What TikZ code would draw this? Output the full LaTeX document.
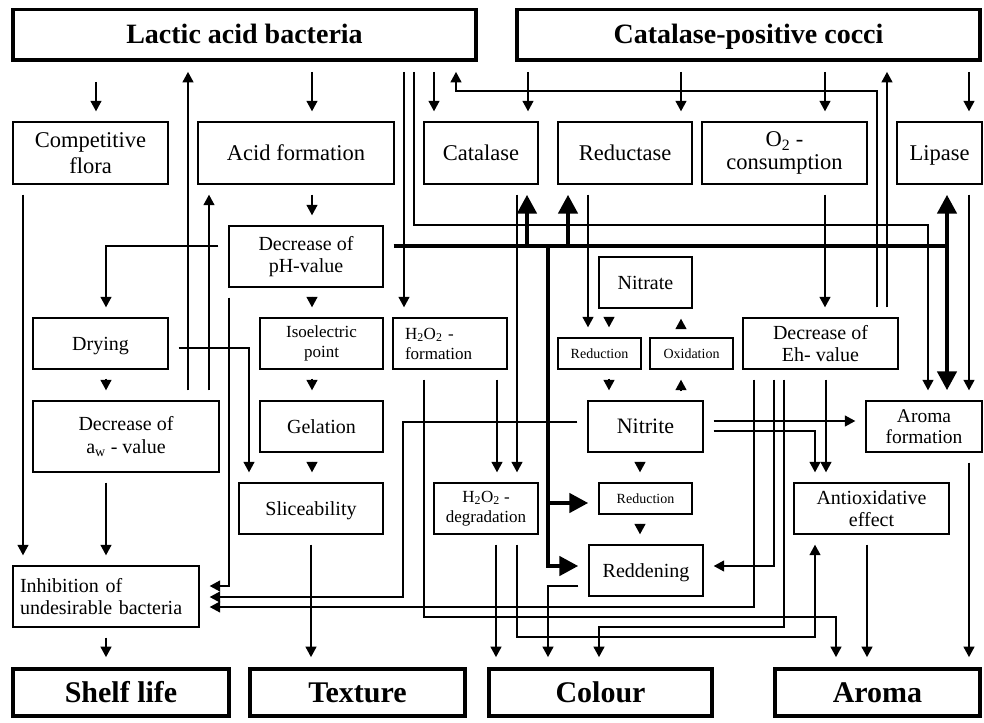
\documentclass[tikz,border=0pt]{standalone}
\usepackage{fontspec}
\setmainfont{Liberation Serif}
\usetikzlibrary{arrows.meta}

% text sizes used in the boxes
\newcommand\szA{\fontsize{22.5}{25.5}\selectfont}
\newcommand\szB{\fontsize{20}{22.5}\selectfont}
\newcommand\szC{\fontsize{17}{20}\selectfont}
\newcommand\szD{\fontsize{14}{16}\selectfont}

\begin{document}
\begin{tikzpicture}[x=1pt,y=-1pt,
  box/.style={draw, line width=1.4pt, inner sep=0pt, align=center},
  % single-line labels: centre the capital height in the box
  one/.style={text height=#1, text depth=0pt},
  title/.style={draw, line width=3.8pt, inner sep=0pt, one=18.5pt, font=\bfseries\fontsize{28}{30}\selectfont},
  result/.style={draw, line width=3.8pt, inner sep=0pt, one=19.8pt, font=\bfseries\fontsize{30}{32}\selectfont},
  arr/.style={line width=1.4pt, -{Triangle[length=10.5pt,width=11pt]}, shorten <=10pt, shorten >=10pt},
  tick/.style={arr, shorten <=9pt},
  thk/.style={line width=4.5pt},
  thka/.style={line width=4.5pt, -{Triangle[length=19pt,width=19pt]}, shorten >=10pt},
]
\useasboundingbox (0,0) rectangle (984,722);

% ---------- organisms ----------
\node[title, minimum width=463, minimum height=50.5] (lab) at (244.5,34.75) {Lactic acid bacteria};
\node[title, minimum width=463, minimum height=50.5] (cpc) at (748.5,34.75) {Catalase-positive cocci};

% ---------- first level ----------
\node[box, minimum width=155, minimum height=62, font=\szA] (comp) at (90.5,153) {Competitive\\flora};
\node[box, one=14.9pt, minimum width=196, minimum height=62, font=\szA] (acid) at (296,153) {Acid formation};
\node[box, one=14.9pt, minimum width=114, minimum height=62, font=\szA] (cat) at (481,153) {Catalase};
\node[box, one=14.9pt, minimum width=134, minimum height=62, font=\szA] (red) at (625,153) {Reductase};
\node[box, minimum width=165, minimum height=62, font=\fontsize{22.5}{22.5}\selectfont] (o2) at (784.5,153) {O\textsubscript{2} -\\consumption};
\node[box, one=14.9pt, minimum width=85, minimum height=62, font=\szA] (lip) at (939.5,153) {Lipase};

% ---------- intermediate effects ----------
\node[box, minimum width=154, minimum height=61, font=\szB] (pH) at (306,256.5) {Decrease of\\pH-value};
\node[box, one=13.2pt, minimum width=135, minimum height=51, font=\szB] (dry) at (100.5,343.5) {Drying};
\node[box, minimum width=123, minimum height=51, font=\szC] (iso) at (321.5,343.5) {Isoelectric\\point};
\node[box, minimum width=114, minimum height=51, text width=90, align=left, font=\szC] (h2f) at (450,343.5) {H\textsubscript{2}O\textsubscript{2} -\\formation};
\node[box, one=13.2pt, minimum width=93, minimum height=51, font=\szB] (nitrate) at (645.5,282.5) {Nitrate};
\node[box, one=9.3pt, minimum width=83, minimum height=31, font=\szD] (redu1) at (599.5,353.5) {Reduction};
\node[box, one=9.3pt, minimum width=83, minimum height=31, font=\szD] (oxi) at (691.5,353.5) {Oxidation};
\node[box, minimum width=155, minimum height=51, font=\szB] (eh) at (820.5,343.5) {Decrease of\\Eh- value};

\node[box, minimum width=186, minimum height=71, font=\szB] (aw) at (126,436.5) {Decrease of\\a\textsubscript{w} - value};
\node[box, one=13.2pt, minimum width=123, minimum height=51, font=\szB] (gel) at (321.5,426.5) {Gelation};
\node[box, one=14.5pt, minimum width=115, minimum height=51, font=\fontsize{22}{24}\selectfont] (nitrite) at (645.5,426.5) {Nitrite};
\node[box, minimum width=116, minimum height=51, font=\fontsize{19.5}{21.5}\selectfont] (arf) at (924,426.5) {Aroma\\formation};

\node[box, one=13.2pt, minimum width=144, minimum height=51, font=\szB] (slice) at (311,508.5) {Sliceability};
\node[box, minimum width=104, minimum height=51, font=\szC] (h2d) at (486,508.5) {H\textsubscript{2}O\textsubscript{2} -\\degradation};
\node[box, one=9.3pt, minimum width=93, minimum height=31, font=\szD] (redu2) at (645.5,498.5) {Reduction};
\node[box, one=13.2pt, minimum width=114, minimum height=51, font=\szB] (redden) at (646,570.5) {Reddening};
\node[box, minimum width=155, minimum height=51, font=\szB] (antiox) at (871.5,508.5) {Antioxidative\\effect};
\node[box, minimum width=186, minimum height=61, text width=172, align=left, font=\szB] (inhib) at (106,596.5) {Inhibition of\\undesirable bacteria};

% ---------- product properties ----------
\node[result, minimum width=216, minimum height=47] (shelf) at (121,692.5) {Shelf life};
\node[result, minimum width=215, minimum height=47] (texture) at (357.5,692.5) {Texture};
\node[result, minimum width=223, minimum height=47] (colour) at (600.5,692.5) {Colour};
\node[result, minimum width=205, minimum height=47] (aroma) at (877.5,692.5) {Aroma};

% ---------- guide columns, rows and corners ----------
\foreach \xx in {23,96,106,188,209,311,312,404,434,456,496,497,517,528,588,609,640,681,825,826,867,887,969}
  \coordinate (k\xx) at (\xx,0);
\coordinate (r421) at (0,421);
\coordinate (j7a) at (414,225);  \coordinate (j7b) at (928,225);
\coordinate (j9a) at (877,91);   \coordinate (j9b) at (456,91);
\coordinate (j20) at (106,246);
\coordinate (j22a) at (424,617); \coordinate (j22b) at (836,617);
\coordinate (j23) at (229,586);
\coordinate (j24a) at (403,422); \coordinate (j24b) at (403,597);
\coordinate (j25) at (754,607);
\coordinate (j26) at (249,348);
\coordinate (j32a) at (517,637); \coordinate (j32b) at (815,637);
\coordinate (j33) at (548,586);
\coordinate (j34a) at (784,627); \coordinate (j34b) at (599,627);
\coordinate (j35) at (774,566);
\coordinate (j38) at (815,431);
\coordinate (busE) at (947,246); \coordinate (busD) at (548,246);
\coordinate (bC) at (527,246);   \coordinate (bR) at (568,246);
\coordinate (tR2) at (548,503);  \coordinate (tRd) at (548,566);

% ---------- thin connectors ----------
\draw[arr, shorten <=20pt] (lab.south -| k96) -- (comp.north -| k96);
\draw[arr] (aw.north -| k188) -- (lab.south -| k188);
\draw[arr] (aw.north -| k209) -- (acid.south -| k209);
\draw[arr] (lab.south -| k312) -- (acid.north -| k312);
\draw[arr] (acid.south -| k312) -- (pH.north -| k312);
\draw[arr] (lab.south -| k404) -- (h2f.north -| k404);
\draw[arr] (lab.south -| j7a) -- (j7a) -- (j7b) -- (arf.north -| j7b);
\draw[arr] (lab.south -| k434) -- (cat.north -| k434);
\draw[arr] (eh.north -| j9a) -- (j9a) -- (j9b) -- (lab.south -| j9b);
\draw[arr] (eh.north -| k887) -- (cpc.south -| k887);
\draw[arr] (cpc.south -| k528) -- (cat.north -| k528);
\draw[arr] (cpc.south -| k681) -- (red.north -| k681);
\draw[arr] (cpc.south -| k825) -- (o2.north -| k825);
\draw[arr] (cpc.south -| k969) -- (lip.north -| k969);
\draw[arr] (cat.south -| k517) -- (h2d.north -| k517);
\draw[arr] (red.south -| k588) -- (redu1.north -| k588);
\draw[arr] (o2.south -| k825) -- (eh.north -| k825);
\draw[arr] (lip.south -| k969) -- (arf.north -| k969);
\draw[arr] (pH.west |- j20) -- (j20) -- (dry.north -| j20);
\draw[arr] (h2f.south -| k497) -- (h2d.north -| k497);
\draw[arr] (h2f.south -| j22a) -- (j22a) -- (j22b) -- (aroma.north -| j22b);
\draw[arr] (pH.south -| j23) -- (j23) -- (inhib.east |- j23);
\draw[arr] (nitrite.west |- j24a) -- (j24a) -- (j24b) -- (inhib.east |- j24b);
\draw[arr] (eh.south -| j25) -- (j25) -- (inhib.east |- j25);
\draw[arr] (dry.east |- j26) -- (j26) -- (slice.north -| j26);
\draw[arr] (slice.south -| k311) -- (texture.north -| k311);
\draw[arr] (comp.south -| k23) -- (inhib.north -| k23);
\draw[arr] (aw.south -| k106) -- (inhib.north -| k106);
\draw[arr] (inhib.south -| k106) -- (shelf.north -| k106);
\draw[arr] (h2d.south -| k496) -- (colour.north -| k496);
\draw[arr] (h2d.south -| j32a) -- (j32a) -- (j32b) -- (antiox.south -| j32b);
\draw[arr] (redden.west |- j33) -- (j33) -- (colour.north -| j33);
\draw[arr] (eh.south -| j34a) -- (j34a) -- (j34b) -- (colour.north -| j34b);
\draw[arr] (eh.south -| j35) -- (j35) -- (redden.east |- j35);
\draw[arr] (eh.south -| k826) -- (antiox.north -| k826);
\draw[arr] (nitrite.east |- r421) -- (arf.west |- r421);
\draw[arr] (nitrite.east |- j38) -- (j38) -- (antiox.north -| j38);
\draw[arr] (arf.south -| k969) -- (aroma.north -| k969);
\draw[arr] (antiox.south -| k867) -- (aroma.north -| k867);

% ---------- short step markers ----------
\draw[tick] (pH.south -| k312) -- (iso.north -| k312);
\draw[tick] (iso.south -| k312) -- (gel.north -| k312);
\draw[tick] (gel.south -| k312) -- (slice.north -| k312);
\draw[tick] (dry.south -| k106) -- (aw.north -| k106);
\draw[tick] (nitrate.south -| k609) -- (redu1.north -| k609);
\draw[tick] (redu1.south -| k609) -- (nitrite.north -| k609);
\draw[tick] (nitrite.north -| k681) -- (oxi.south -| k681);
\draw[tick] (oxi.north -| k681) -- (nitrate.south -| k681);
\draw[tick] (nitrite.south -| k640) -- (redu2.north -| k640);
\draw[tick] (redu2.south -| k640) -- (redden.north -| k640);

% ---------- thick pH bus ----------
\draw[thk, shorten <=10pt] (pH.east |- busE) -- (busE);
\draw[thka] (bC) -- (cat.south -| bC);
\draw[thka] (bR) -- (red.south -| bR);
\draw[thka] (busE) -- (lip.south -| busE);
\draw[thka] (busE) -- (arf.north -| busE);
\draw[thka] (busD) -- (tRd) -- (redden.west |- tRd);
\draw[thka] (tR2) -- (redu2.west |- tR2);
\end{tikzpicture}
\end{document}
